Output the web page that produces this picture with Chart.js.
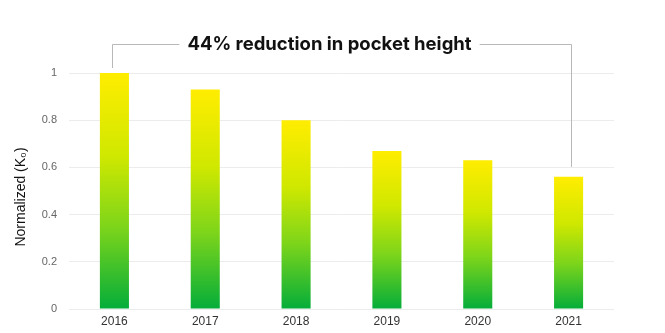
<!DOCTYPE html>
<html>
<head>
<meta charset="utf-8">
<script src="https://cdn.jsdelivr.net/npm/chart.js@4/dist/chart.umd.min.js"></script>
<style>
  html, body { margin: 0; padding: 0; background: #fff; }
  #wrap { width: 665px; height: 333px; position: relative; }
</style>
</head>
<body>
<div id="wrap"><canvas id="chart"></canvas></div>
<script>
// data
const years = ['2016', '2017', '2018', '2019', '2020', '2021'];
const pocketHeight = [1.0, 0.93, 0.80, 0.67, 0.63, 0.56];
const yTicks = [0, 0.2, 0.4, 0.6, 0.8, 1];
const calloutText = '44% reduction in pocket height';
const yLabel = 'Normalized (K\u2080)';

// yellow top -> green bottom, per bar
function barGradient(ctx) {
    const chart = ctx.chart;
    const ys = chart.scales.y;
    if (!chart.chartArea || !ys || ctx.parsed === undefined) return '#c8e600';
    const top = ys.getPixelForValue(ctx.parsed.y);
    const base = ys.getPixelForValue(0);
    const g = chart.ctx.createLinearGradient(0, top, 0, base);
    g.addColorStop(0, '#ffed00');
    g.addColorStop(0.35, '#d0e800');
    g.addColorStop(0.65, '#7ed51a');
    g.addColorStop(1, '#04ad3a');
    return g;
}

// bracket + headline above the bars
const calloutPlugin = {
    id: 'callout',
    afterDraw(chart) {
        const { ctx, scales: { x, y } } = chart;
        const first = 0, last = pocketHeight.length - 1;
        const x1 = x.getPixelForValue(first) - 2;
        const x2 = x.getPixelForValue(last) + 2;
        const lineY = 44;
        const cx = chart.width / 2 - 3;

        ctx.save();
        ctx.font = 'bold 18.5px Inter, "Liberation Sans", sans-serif';
        ctx.fillStyle = '#111';
        ctx.textAlign = 'center';
        ctx.textBaseline = 'middle';
        ctx.fillText(calloutText, cx, lineY);
        const tw = ctx.measureText(calloutText).width;

        ctx.strokeStyle = '#b8b8b8';
        ctx.lineWidth = 1;
        ctx.beginPath();
        ctx.moveTo(Math.round(x1) + 0.5, y.getPixelForValue(pocketHeight[first]) - 5);
        ctx.lineTo(Math.round(x1) + 0.5, lineY + 0.5);
        ctx.lineTo(cx - tw / 2 - 8, lineY + 0.5);
        ctx.moveTo(cx + tw / 2 + 8, lineY + 0.5);
        ctx.lineTo(Math.round(x2) + 0.5, lineY + 0.5);
        ctx.lineTo(Math.round(x2) + 0.5, y.getPixelForValue(pocketHeight[last]) - 10);
        ctx.stroke();

        // rotated axis title
        ctx.translate(21, (y.top + y.bottom) / 2 + 6);
        ctx.rotate(-Math.PI / 2);
        ctx.font = '14px "Liberation Sans", Arial, sans-serif';
        ctx.fillStyle = '#111';
        ctx.fillText(yLabel, 0, 0);
        ctx.restore();
    }
};

new Chart(document.getElementById('chart'), {
    type: 'bar',
    data: {
        labels: years,
        datasets: [{
            data: pocketHeight,
            backgroundColor: barGradient,
            borderWidth: 0,
            barPercentage: 0.32,
            categoryPercentage: 1
        }]
    },
    options: {
        responsive: true,
        maintainAspectRatio: false,
        animation: false,
        layout: { padding: { top: 73, right: 51, bottom: 0, left: 0 } },
        plugins: {
            legend: { display: false },
            tooltip: { enabled: false }
        },
        scales: {
            x: {
                grid: { display: false },
                border: { display: false },
                ticks: {
                    color: '#333',
                    padding: -3,
                    font: { family: '"Liberation Sans", Arial, sans-serif', size: 12 }
                },
                afterFit(scale) { scale.height = 24; }
            },
            y: {
                min: 0,
                max: 1,
                afterBuildTicks(scale) { scale.ticks = yTicks.map(v => ({ value: v })); },
                grid: { color: '#ececec', drawTicks: false },
                border: { display: false },
                ticks: {
                    color: '#666',
                    padding: 12,
                    font: { family: '"Liberation Sans", Arial, sans-serif', size: 11 },
                    callback: v => String(v)
                },
                afterFit(scale) { scale.width = 69; }
            }
        }
    },
    plugins: [calloutPlugin]
});
</script>
</body>
</html>
